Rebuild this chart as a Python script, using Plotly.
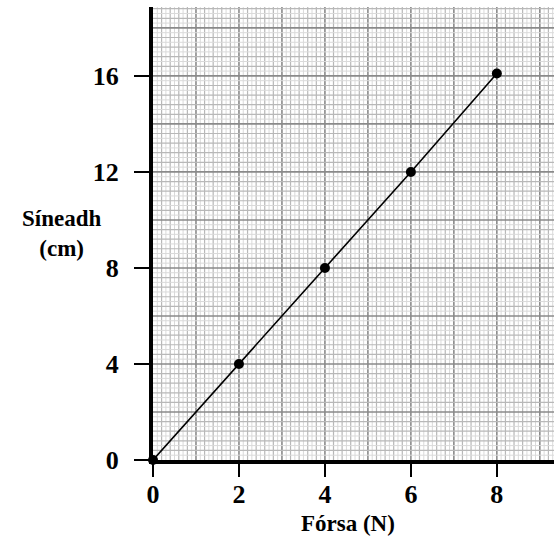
import plotly.graph_objects as go

# Data
force_n = [0, 2, 4, 6, 8]
extension_cm = [0, 4, 8, 12, 16.1]
x_ticks = [0, 2, 4, 6, 8]
y_ticks = [0, 4, 8, 12, 16]
x_title = "Fórsa (N)"
y_title = "Síneadh<br>(cm)"

XMAX = 9.33
YMAX = 18.87

fig = go.Figure()
fig.add_trace(go.Scatter(
    x=force_n, y=extension_cm, mode="lines+markers",
    line=dict(color="black", width=1.6),
    marker=dict(color="black", size=10),
    cliponaxis=False, showlegend=False, hoverinfo="skip",
))

shapes = []
# vertical grid lines (every 0.1, dark every 1)
for i in range(1, int(XMAX * 10) + 1):
    xv = i / 10
    if i % 10 == 0:
        col, w = "#8a8a8a", 1.6
    elif i % 2 == 0:
        col, w = "#b8b8b8", 1.2
    else:
        col, w = "#dadada", 1.0
    shapes.append(dict(type="line", xref="x", yref="paper", x0=xv, x1=xv, y0=0, y1=1,
                       line=dict(color=col, width=w), layer="below"))
# horizontal grid lines (every 0.2, dark every 2)
for j in range(1, int(YMAX * 5) + 1):
    yv = j / 5
    if j % 10 == 0:
        col, w = "#8a8a8a", 1.6
    elif j % 2 == 0:
        col, w = "#b8b8b8", 1.2
    else:
        col, w = "#dadada", 1.0
    shapes.append(dict(type="line", xref="paper", yref="y", x0=0, x1=1, y0=yv, y1=yv,
                       line=dict(color=col, width=w), layer="below"))

font_family = "Liberation Serif"
fig.update_layout(
    width=554, height=540,
    margin=dict(l=153, r=0, t=7, b=80),
    paper_bgcolor="white", plot_bgcolor="white",
    shapes=shapes,
    font=dict(family=font_family, color="black"),
    xaxis=dict(range=[0, XMAX], tickvals=x_ticks, ticktext=[str(v) for v in x_ticks],
               showgrid=False, zeroline=False, showline=True, linecolor="black", linewidth=4,
               ticks="outside", ticklen=13, tickwidth=2, tickcolor="black",
               tickfont=dict(family=font_family, size=26, color="black", weight="bold"),
               ticklabelstandoff=-5, fixedrange=True),
    yaxis=dict(range=[0, YMAX], tickvals=y_ticks, ticktext=[str(v) for v in y_ticks],
               showgrid=False, zeroline=False, showline=True, linecolor="black", linewidth=4,
               ticks="outside", ticklen=15, tickwidth=2, tickcolor="black",
               tickfont=dict(family=font_family, size=26, color="black", weight="bold"),
               ticklabelstandoff=10, fixedrange=True),
    annotations=[
        dict(text=x_title, xref="paper", yref="paper", x=0.5, xshift=-6, y=0, yshift=-63,
             xanchor="center", yanchor="middle", showarrow=False,
             font=dict(family=font_family, size=23, color="black", weight="bold")),
        dict(text=y_title, xref="paper", yref="paper", x=0, xshift=-92, y=0.501,
             xanchor="center", yanchor="middle", showarrow=False,
             font=dict(family=font_family, size=23, color="black", weight="bold")),
    ],
)

fig.write_html("out.html", config={"displayModeBar": False},
               post_script="document.body.style.margin='0';document.body.style.padding='0';")
